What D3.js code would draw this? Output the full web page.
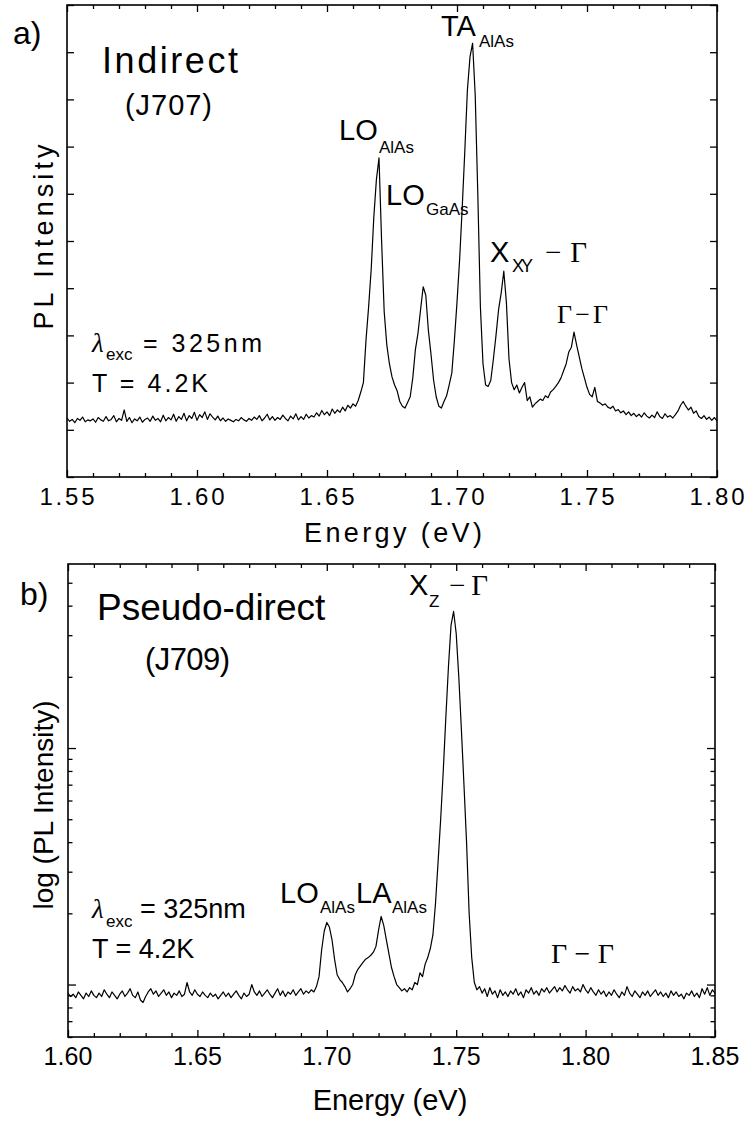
<!DOCTYPE html>
<html>
<head>
<meta charset="utf-8">
<script src="https://cdn.jsdelivr.net/npm/d3@7"></script>
<style>
  body { margin: 0; background: #fff; }
  svg { display: block; }
  text { font-family: "Liberation Sans", Arial, sans-serif; fill: #000; }
  .serif { font-family: "Liberation Serif", "Times New Roman", serif; }
</style>
</head>
<body>
<svg id="chart" width="748" height="1122"></svg>
<script>
// ---- data ----
var energyStartA = 1.55;
var energyStepA = 0.001;
var intensityA = [
  1.25, 1.18, 1.22, 1.15, 1.24, 1.20, 1.27, 1.17, 1.21, 1.19,
  1.23, 1.16, 1.26, 1.21, 1.18, 1.28, 1.19, 1.22, 1.30, 1.17,
  1.24, 1.20, 1.42, 1.18, 1.26, 1.15, 1.23, 1.19, 1.27, 1.16,
  1.22, 1.25, 1.18, 1.29, 1.20, 1.24, 1.17, 1.31, 1.19, 1.26,
  1.21, 1.33, 1.18, 1.28, 1.22, 1.35, 1.19, 1.30, 1.24, 1.37,
  1.20, 1.32, 1.26, 1.38, 1.22, 1.34, 1.27, 1.21, 1.29, 1.19,
  1.25, 1.18, 1.23, 1.20, 1.17, 1.22, 1.19, 1.26, 1.21, 1.18,
  1.24, 1.20, 1.27, 1.22, 1.30, 1.19, 1.25, 1.33, 1.21, 1.28,
  1.20, 1.26, 1.22, 1.31, 1.24, 1.19, 1.29, 1.23, 1.34, 1.21,
  1.28, 1.22, 1.33, 1.25, 1.30, 1.27, 1.36, 1.29, 1.41, 1.32,
  1.38, 1.30, 1.44, 1.35, 1.42, 1.37, 1.48, 1.40, 1.52, 1.46,
  1.55, 1.50, 1.62, 1.80, 2.00, 2.90, 3.60, 4.40, 5.50, 6.30,
  6.76, 5.00, 3.50, 2.80, 2.40, 2.12, 1.95, 1.82, 1.60, 1.50,
  1.46, 1.58, 1.70, 2.10, 2.70, 3.05, 3.55, 4.03, 3.85, 3.10,
  2.60, 2.05, 1.70, 1.50, 1.46, 1.60, 1.72, 1.95, 2.20, 2.90,
  3.70, 4.60, 5.70, 6.90, 8.20, 8.90, 9.19, 8.10, 6.00, 3.60,
  2.40, 1.95, 1.92, 2.05, 2.50, 3.00, 3.55, 3.90, 4.36, 3.70,
  2.50, 2.00, 1.85, 1.95, 1.78, 1.90, 2.00, 1.62, 1.70, 1.48,
  1.55, 1.60, 1.65, 1.62, 1.72, 1.68, 1.80, 1.85, 1.92, 2.00,
  2.10, 2.25, 2.40, 2.65, 2.75, 3.07, 2.80, 2.55, 2.30, 2.10,
  1.90, 1.75, 1.70, 1.90, 1.60, 1.57, 1.52, 1.55, 1.48, 1.45,
  1.50, 1.40, 1.43, 1.36, 1.40, 1.32, 1.38, 1.30, 1.35, 1.28,
  1.33, 1.27, 1.36, 1.29, 1.25, 1.31, 1.26, 1.38, 1.28, 1.24,
  1.34, 1.27, 1.30, 1.25, 1.32, 1.40, 1.52, 1.60, 1.50, 1.42,
  1.48, 1.35, 1.40, 1.28, 1.24, 1.30, 1.22, 1.27, 1.20, 1.26,
  1.19
];

var energyStartB = 1.60;
var energyStepB = 0.001;
var intensityB = [
  0.92, 0.89, 0.91, 0.88, 0.93, 0.90, 0.87, 0.92, 0.89, 0.94,
  0.90, 0.88, 0.92, 0.89, 0.95, 0.91, 0.88, 0.93, 0.90, 0.87,
  0.91, 0.94, 0.89, 0.92, 0.96, 0.90, 0.88, 0.93, 0.86, 0.84,
  0.89, 0.93, 0.96, 0.91, 0.94, 0.89, 0.92, 0.95, 0.90, 0.93,
  0.88, 0.92, 0.90, 0.94, 0.89, 0.91, 1.02, 0.93, 0.90, 0.95,
  0.91, 0.89, 0.93, 0.90, 0.88, 0.92, 0.89, 0.91, 0.87, 0.90,
  0.93, 0.89, 0.92, 0.88, 0.91, 0.94, 0.90, 0.87, 0.92, 0.89,
  0.91, 1.00, 0.93, 0.90, 0.94, 0.89, 0.92, 0.95, 0.91, 0.88,
  0.92, 0.96, 0.90, 0.94, 0.89, 0.93, 0.91, 0.95, 0.90, 0.93,
  0.96, 0.91, 0.94, 0.92, 0.95, 0.93, 0.98, 1.08, 1.40, 1.68,
  1.83, 1.75, 1.55, 1.28, 1.10, 1.05, 1.02, 0.98, 0.93, 0.96,
  1.00, 1.10, 1.16, 1.20, 1.24, 1.28, 1.30, 1.33, 1.37, 1.45,
  1.70, 1.94, 1.78, 1.55, 1.35, 1.18, 1.08, 1.00, 0.97, 0.94,
  0.96, 0.93, 0.97, 0.95, 1.02, 1.00, 1.12, 1.08, 1.22, 1.30,
  1.42, 1.62, 2.20, 3.30, 5.00, 8.00, 13.5, 22.0, 33.0, 37.8,
  30.5, 20.0, 12.0, 7.0, 4.0, 2.0, 1.30, 1.02, 0.95, 0.98,
  0.92, 0.96, 0.89, 0.97, 0.91, 0.94, 0.88, 0.95, 0.90, 0.93,
  0.89, 0.94, 0.91, 0.96, 0.90, 0.93, 0.88, 0.95, 0.92, 0.97,
  0.91, 0.94, 0.90, 0.96, 0.93, 0.97, 0.92, 0.95, 0.98, 0.93,
  0.97, 0.94, 0.99, 0.95, 0.92, 0.98, 0.94, 0.96, 0.93, 1.00,
  0.95, 0.92, 0.97, 0.93, 0.90, 0.95, 0.91, 0.94, 0.89, 0.93,
  0.90, 0.95, 0.91, 0.88, 0.93, 0.90, 0.98, 0.92, 0.89, 0.94,
  0.91, 0.88, 0.93, 0.90, 0.94, 0.89, 0.92, 0.95, 0.90, 0.93,
  0.89, 0.92, 0.88, 0.94, 0.90, 0.93, 0.89, 0.91, 0.87, 0.92,
  0.90, 0.94, 0.89, 0.92, 0.88, 0.96, 0.91, 0.97, 0.90, 0.95,
  0.92
];

var xTicksA = [1.55, 1.60, 1.65, 1.70, 1.75, 1.80];
var xTicksB = [1.60, 1.65, 1.70, 1.75, 1.80, 1.85];
var yTicksA = [0, 1, 2, 3, 4, 5, 6, 7, 8, 9, 10];
var yMajorB = [1, 10];
var yMinorB = [0.6, 0.7, 0.8, 0.9, 2, 3, 4, 5, 6, 7, 8, 9, 20, 30, 40, 50];

function toPoints(start, step, values) {
  return values.map(function(v, i) {
    return { e: +(start + i * step).toFixed(4), v: v };
  });
}

var svg = d3.select("#chart");

function minorTicks(majors) {
  var out = [];
  for (var i = 0; i < majors.length - 1; i++) {
    for (var k = 1; k < 5; k++) out.push(+(majors[i] + k * 0.01).toFixed(3));
  }
  return out;
}

function drawFrame(g, x, y, left, right, top, bottom) {
  var xMinor = minorTicks(x.ticksMajor);
  // bottom / top ticks, pointing inward
  g.append("g").attr("transform", "translate(0," + bottom + ")")
    .call(d3.axisBottom(x.scale).tickValues(x.ticksMajor).tickSize(-7).tickFormat(""));
  g.append("g").attr("transform", "translate(0," + bottom + ")")
    .call(d3.axisBottom(x.scale).tickValues(xMinor).tickSize(-4).tickFormat(""));
  g.append("g").attr("transform", "translate(0," + top + ")")
    .call(d3.axisTop(x.scale).tickValues(x.ticksMajor).tickSize(-7).tickFormat(""));
  g.append("g").attr("transform", "translate(0," + top + ")")
    .call(d3.axisTop(x.scale).tickValues(xMinor).tickSize(-4).tickFormat(""));

  y.forEach(function(set) {
    g.append("g").attr("transform", "translate(" + left + ",0)")
      .call(d3.axisLeft(set.scale).tickValues(set.values).tickSize(-set.len).tickFormat(""));
    g.append("g").attr("transform", "translate(" + right + ",0)")
      .call(d3.axisRight(set.scale).tickValues(set.values).tickSize(-set.len).tickFormat(""));
  });

  g.selectAll(".domain").remove();
  g.selectAll(".tick line").attr("stroke", "#000").attr("stroke-width", 1.3);

  g.append("rect")
    .attr("x", left).attr("y", top)
    .attr("width", right - left).attr("height", bottom - top)
    .attr("fill", "none").attr("stroke", "#000").attr("stroke-width", 1.6);

  // tick labels
  g.selectAll(".xlab")
    .data(x.ticksMajor)
    .enter().append("text")
    .attr("x", function(d) { return x.scale(d); })
    .attr("y", x.labelY)
    .attr("text-anchor", "middle")
    .attr("font-size", x.labelSize)
    .attr("textLength", x.labelLen)
    .attr("lengthAdjust", "spacing")
    .text(function(d) { return d.toFixed(2); });
}

function label(txt, px, py, size, opts) {
  opts = opts || {};
  var t = svg.append("text")
    .attr("x", px).attr("y", py)
    .attr("font-size", size)
    .text(txt);
  if (opts.cls) t.attr("class", opts.cls);
  if (opts.len) t.attr("textLength", opts.len).attr("lengthAdjust", "spacing");
  if (opts.anchor) t.attr("text-anchor", opts.anchor);
  if (opts.italic) t.attr("font-style", "italic");
  return t;
}

// ================= panel a =================
var aLeft = 67, aRight = 717, aTop = 5, aBottom = 477;
var xA = d3.scaleLinear().domain([1.55, 1.80]).range([aLeft, aRight]);
var yA = d3.scaleLinear().domain([0, 10]).range([aBottom, aTop]);
var gA = svg.append("g");

drawFrame(gA,
  { scale: xA, ticksMajor: xTicksA, labelY: 505, labelSize: 24, labelLen: 55 },
  [{ scale: yA, values: yTicksA, len: 7 }],
  aLeft, aRight, aTop, aBottom);

gA.append("path")
  .datum(toPoints(energyStartA, energyStepA, intensityA))
  .attr("fill", "none")
  .attr("stroke", "#000")
  .attr("stroke-width", 1.2)
  .attr("stroke-linejoin", "round")
  .attr("d", d3.line().x(function(d) { return xA(d.e); }).y(function(d) { return yA(d.v); }));

label("a)", 13, 44, 32);
label("Indirect", 102, 73, 36, { len: 136 });
label("(J707)", 125, 115, 29, { len: 87 });
label("LO", 339, 140, 29);
label("AlAs", 379, 153, 17);
label("LO", 386, 205, 29);
label("GaAs", 426, 215, 17);
label("TA", 441, 36, 29);
label("AlAs", 479, 47, 17);
label("X", 490, 262, 29);
label("XY", 512, 272, 18, { len: 21 });
label("\u2212 \u0393", 545, 262, 29, { cls: "serif", len: 42 });
label("\u0393 \u2212 \u0393", 557, 323, 26, { cls: "serif", len: 51 });
label("\u03bb", 92, 352, 27, { cls: "serif", italic: true });
label("exc", 106, 360, 17);
label("= 325nm", 143, 352, 25, { len: 119 });
label("T = 4.2K", 92, 392, 25, { len: 116 });
label("Energy (eV)", 393, 542, 27, { anchor: "middle", len: 178 });
svg.append("text")
  .attr("transform", "translate(53,237) rotate(-90)")
  .attr("text-anchor", "middle")
  .attr("font-size", 27)
  .attr("textLength", 185)
  .attr("lengthAdjust", "spacing")
  .text("PL Intensity");

// ================= panel b =================
var bLeft = 68, bRight = 715, bTop = 564, bBottom = 1037;
var xB = d3.scaleLinear().domain([1.60, 1.85]).range([bLeft, bRight]);
var yB = d3.scaleLog().domain([0.6, 60]).range([bBottom, bTop]);
var gB = svg.append("g");

drawFrame(gB,
  { scale: xB, ticksMajor: xTicksB, labelY: 1065, labelSize: 25, labelLen: 49 },
  [{ scale: yB, values: yMajorB, len: 8 }, { scale: yB, values: yMinorB, len: 4.5 }],
  bLeft, bRight, bTop, bBottom);

gB.append("path")
  .datum(toPoints(energyStartB, energyStepB, intensityB))
  .attr("fill", "none")
  .attr("stroke", "#000")
  .attr("stroke-width", 1.2)
  .attr("stroke-linejoin", "round")
  .attr("d", d3.line().x(function(d) { return xB(d.e); }).y(function(d) { return yB(d.v); }));

label("b)", 20, 605, 32);
label("Pseudo-direct", 97, 620, 37);
label("(J709)", 145, 670, 31, { len: 85 });
label("X", 409, 595, 29);
label("Z", 429, 607, 17);
label("\u2212 \u0393", 449, 595, 29, { cls: "serif", len: 39 });
label("LO", 280, 903, 29);
label("AlAs", 320, 913, 17);
label("LA", 356, 903, 29);
label("AlAs", 392, 913, 17);
label("\u03bb", 92, 918, 27, { cls: "serif", italic: true });
label("exc", 106, 927, 17);
label("= 325nm", 140, 918, 27);
label("T = 4.2K", 92, 958, 27);
label("\u0393 \u2212 \u0393", 551, 963, 28, { cls: "serif", len: 63 });
label("Energy (eV)", 390, 1110, 29, { anchor: "middle" });
svg.append("text")
  .attr("transform", "translate(53,805) rotate(-90)")
  .attr("text-anchor", "middle")
  .attr("font-size", 28)
  .text("log (PL Intensity)");
</script>
</body>
</html>
